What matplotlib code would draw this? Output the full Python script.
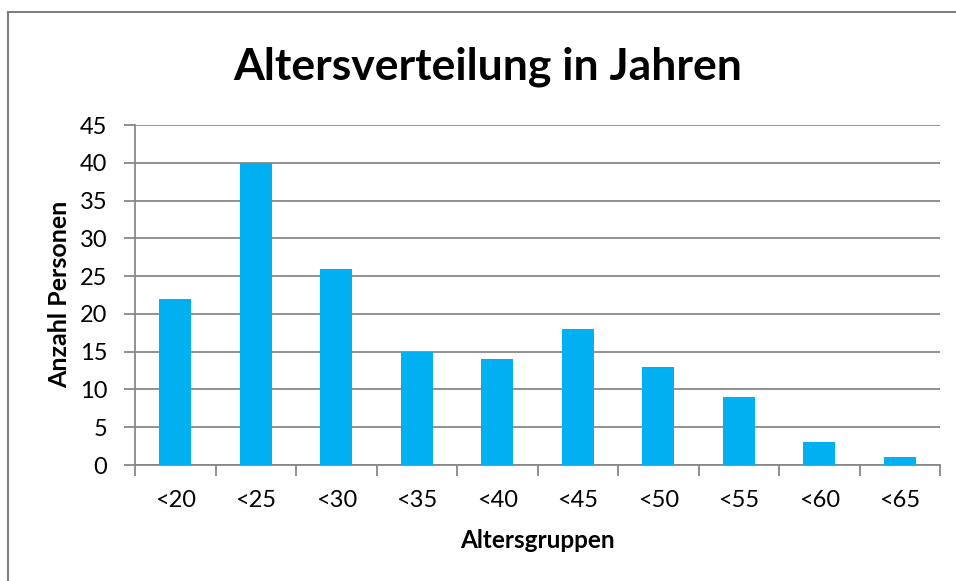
import matplotlib
matplotlib.use("Agg")
import matplotlib.pyplot as plt
from matplotlib.lines import Line2D

categories = ["<20", "<25", "<30", "<35", "<40", "<45", "<50", "<55", "<60", "<65"]
values = [22, 40, 26, 15, 14, 18, 13, 9, 3, 1]
yticks = [0, 5, 10, 15, 20, 25, 30, 35, 40, 45]

plt.rcParams['font.family'] = ['Lato', 'DejaVu Sans']
W, H = 956, 581
fig = plt.figure(figsize=(W/100, H/100), dpi=100)
ax = fig.add_axes([135/W, 1-465/H, (940-135)/W, (465-125)/H])

grey = "#888888"
x = list(range(len(categories)))
ax.bar(x, values, width=0.4, color="#00B0F0", zorder=3)
ax.set_xlim(-0.5, len(categories)-0.5)
ax.set_ylim(0, 45)
ax.set_yticks(yticks)
ax.set_yticklabels([str(v) for v in yticks])
ax.yaxis.grid(True, color=grey, linewidth=1.3, zorder=0)
ax.set_axisbelow(True)

ax.set_xticks([i - 0.5 for i in range(len(categories)+1)])
ax.set_xticklabels([])
ax.set_xticks(x, minor=True)
ax.set_xticklabels(categories, minor=True)
ax.tick_params(axis='x', which='major', length=8, width=1.3, color=grey)
ax.tick_params(axis='x', which='minor', length=0, pad=18, labelsize=17)
ax.tick_params(axis='y', length=8, width=1.3, color=grey, pad=12, labelsize=17)

for s in ['top', 'right']:
    ax.spines[s].set_visible(False)
for s in ['left', 'bottom']:
    ax.spines[s].set_color(grey)
    ax.spines[s].set_linewidth(1.3)

fig.text(488/W, 1-67/H, "Altersverteilung in Jahren", ha='center', va='center',
         fontsize=32, fontweight='bold')
fig.text(537/W, 1-541/H, "Altersgruppen", ha='center', va='center',
         fontsize=17.5, fontweight='bold')
fig.text(60/W, 1-294/H, "Anzahl Personen", ha='center', va='center',
         fontsize=18, fontweight='bold', rotation=90)

fig.add_artist(Line2D([8/W, 1.0], [1-12/H, 1-12/H], transform=fig.transFigure,
                      color="#808080", linewidth=1.5))
fig.add_artist(Line2D([8/W, 8/W], [0.0, 1-12/H], transform=fig.transFigure,
                      color="#808080", linewidth=1.5))

fig.savefig("out.png", dpi=100)
